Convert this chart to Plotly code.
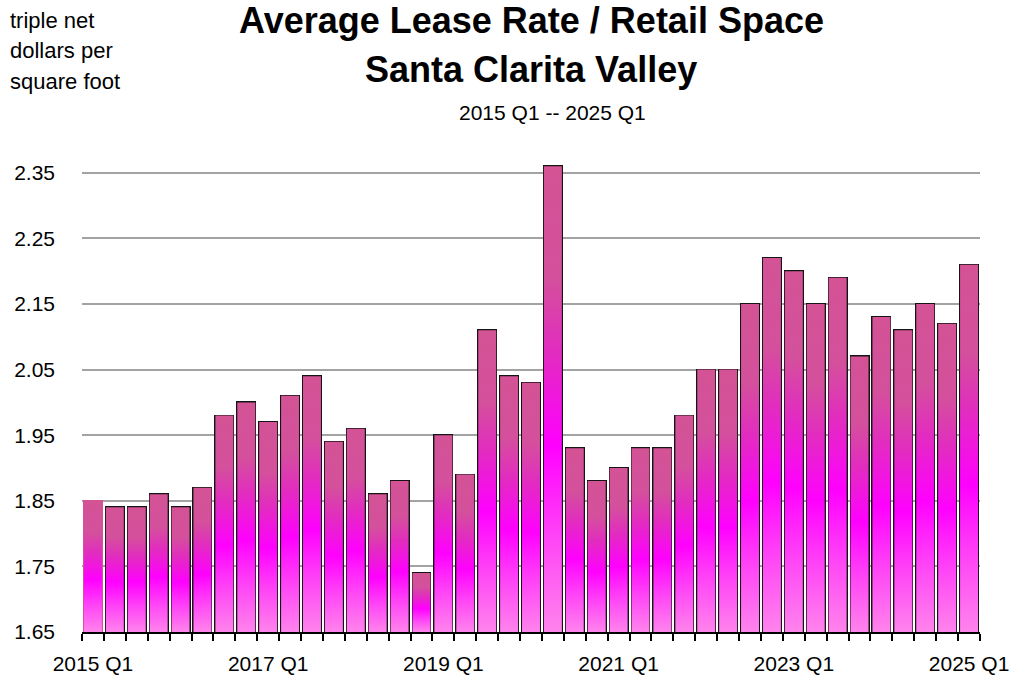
import plotly.graph_objects as go

# ---- data ----
years = list(range(2015, 2026))
quarters = [f"{y} Q{q}" for y in years for q in (1, 2, 3, 4)][:41]
rates = [1.85, 1.84, 1.84, 1.86, 1.84, 1.87, 1.98, 2.00, 1.97, 2.01, 2.04,
         1.94, 1.96, 1.86, 1.88, 1.74, 1.95, 1.89, 2.11, 2.04, 2.03, 2.36,
         1.93, 1.88, 1.90, 1.93, 1.93, 1.98, 2.05, 2.05, 2.15, 2.22, 2.20,
         2.15, 2.19, 2.07, 2.13, 2.11, 2.15, 2.12, 2.21]
tick_labels = ["2015 Q1", "2017 Q1", "2019 Q1", "2021 Q1", "2023 Q1", "2025 Q1"]
y_ticks = [1.65, 1.75, 1.85, 1.95, 2.05, 2.15, 2.25, 2.35]
unit_label_lines = ["triple net", "dollars per", "square foot"]

# ---- style ----
FONT = "Liberation Sans, Arial, sans-serif"
Y_MIN, Y_MAX = 1.65, 2.40
BAR_W = 0.82
gradient = [[0.0, "#ff84ec"], [0.2, "#ff45f6"], [0.4, "#ff00ff"],
            [0.6, "#e22cc0"], [0.76, "#d4509c"], [1.0, "#d35395"]]

positions = list(range(len(rates)))
tick_pos = [quarters.index(t) for t in tick_labels]

fig = go.Figure()

# gradient-filled bar bodies (one closed shape per data value)
for i, v in zip(positions, rates):
    x0, x1 = i - BAR_W / 2, i + BAR_W / 2
    fig.add_trace(go.Scatter(
        x=[x0, x0, x1, x1, x0], y=[Y_MIN, v, v, Y_MIN, Y_MIN],
        mode="none", fill="toself",
        fillgradient=dict(type="vertical", colorscale=gradient),
        hoverinfo="skip", showlegend=False,
    ))

# bar outlines
line_colors = ["#d35395"] + ["#141414"] * (len(rates) - 1)
fig.add_trace(go.Bar(
    x=positions, y=rates, width=BAR_W,
    marker=dict(color="rgba(0,0,0,0)", line=dict(color=line_colors, width=2)),
    hovertext=quarters, showlegend=False,
))

PH = 492.0  # plot height in px
PW = 898.0  # plot width in px

# titles
fig.add_annotation(text="<b>Average Lease Rate / Retail Space</b>",
                   xref="paper", yref="paper", x=0.5, y=(632 - 21) / PH,
                   yanchor="middle", showarrow=False,
                   font=dict(family=FONT, size=36, color="black"))
fig.add_annotation(text="<b>Santa Clarita Valley</b>",
                   xref="paper", yref="paper", x=0.5, y=(632 - 69) / PH,
                   yanchor="middle", showarrow=False,
                   font=dict(family=FONT, size=36, color="black"))
fig.add_annotation(text="2015 Q1 -- 2025 Q1",
                   xref="paper", yref="paper", x=(552 - 82) / PW, y=(632 - 112) / PH,
                   yanchor="middle", showarrow=False,
                   font=dict(family=FONT, size=21, color="black"))
for k, line in enumerate(unit_label_lines):
    fig.add_annotation(text=line,
                       xref="paper", yref="paper", x=(8 - 82) / PW,
                       y=(632 - (20 + 30.5 * k)) / PH,
                       xanchor="left", yanchor="middle", align="left", showarrow=False,
                       font=dict(family=FONT, size=22, color="black"))

fig.update_layout(
    width=1013, height=677,
    margin=dict(l=82, r=33, t=140, b=45),
    paper_bgcolor="white", plot_bgcolor="white",
    font=dict(family=FONT, size=21, color="black"),
    bargap=0,
    xaxis=dict(
        range=[-0.5, len(rates) - 0.5], tickmode="array",
        tickvals=tick_pos, ticktext=tick_labels, automargin=False,
        ticks="", showgrid=False, zeroline=False,
        showline=True, linecolor="black", linewidth=1.5,
        ticklabelstandoff=12,
        minor=dict(ticks="outside", ticklen=7, tickwidth=1.5, tickcolor="black",
                   tick0=-0.5, dtick=1, showgrid=False),
    ),
    yaxis=dict(
        range=[Y_MIN, Y_MAX], tickmode="array", tickvals=y_ticks, automargin=False,
        tickformat=".2f", showgrid=True, gridcolor="#a3a3a3", gridwidth=1.5,
        zeroline=False, showline=False, ticks="", ticklabelstandoff=26,
    ),
)

fig.write_html("out.html", config={"displayModeBar": False},
               post_script="document.body.style.margin='0';")
